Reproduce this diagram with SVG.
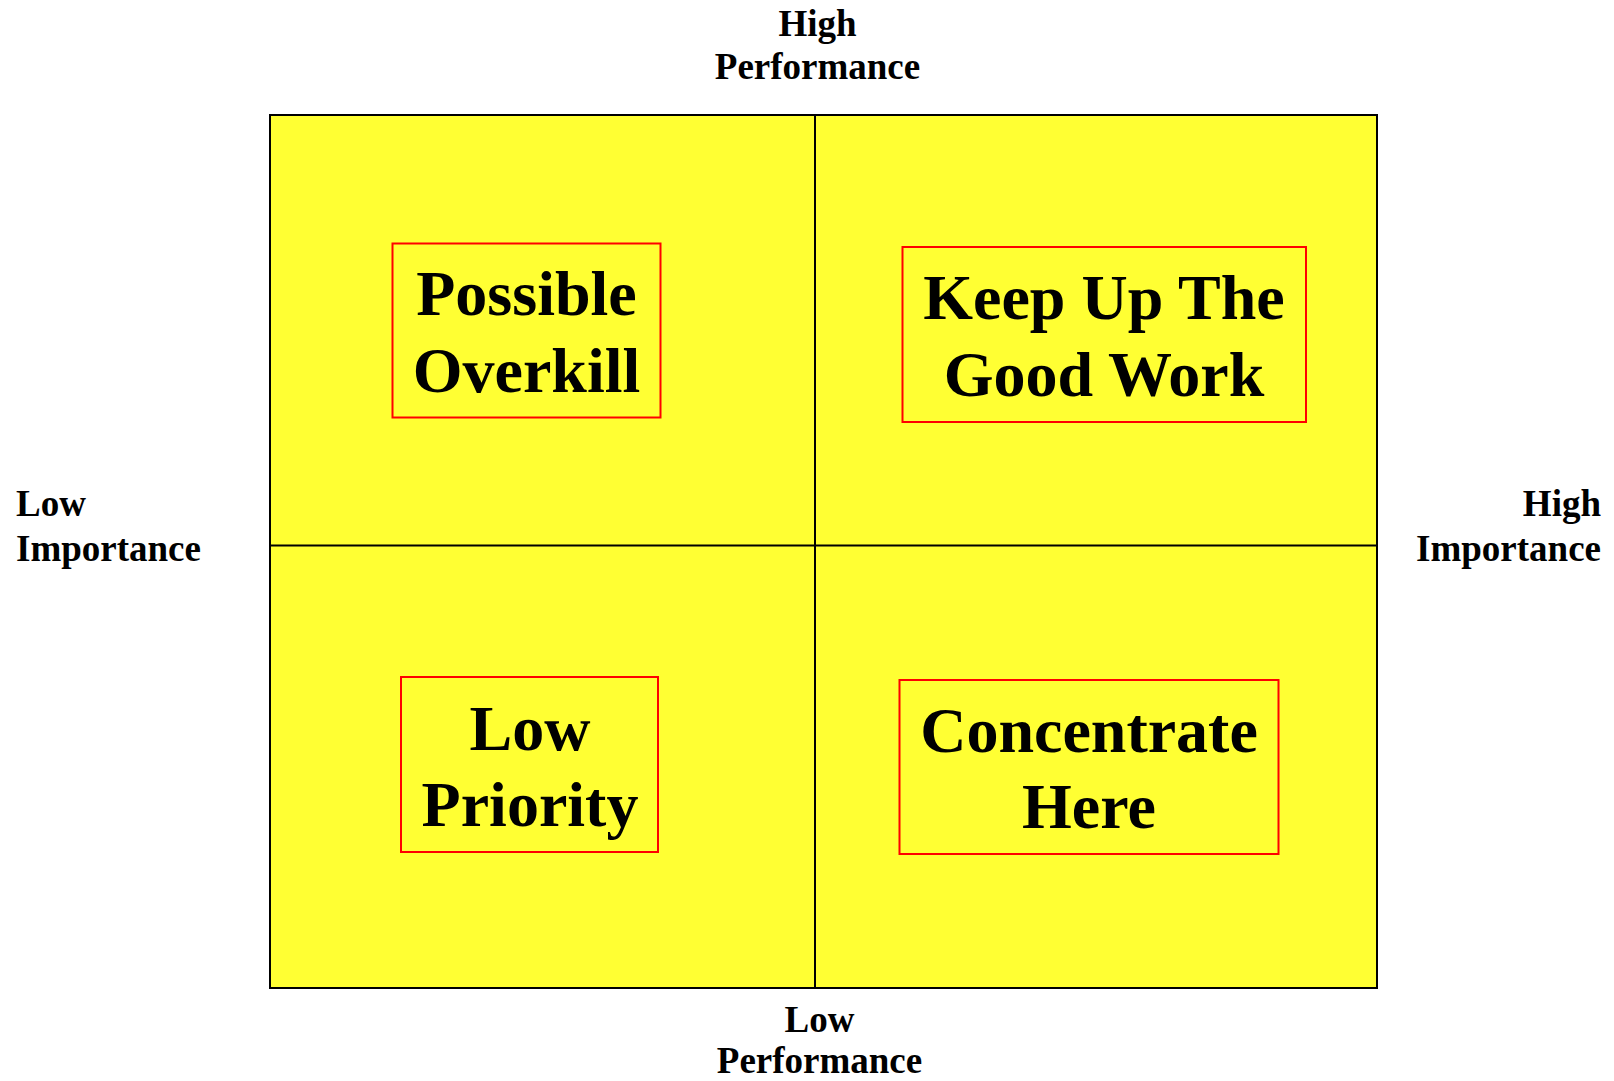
<svg xmlns="http://www.w3.org/2000/svg" width="1614" height="1081" viewBox="0 0 1614 1081">
<style>
.bg{fill:#ffffff}
.quad{fill:#ffff33;stroke:#000;stroke-width:2}
.div{stroke:#000;stroke-width:2;fill:none}
.box{fill:none;stroke:#ff0000;stroke-width:2}
.big{font-family:"Liberation Serif","Times New Roman",serif;font-weight:bold;font-size:64px;fill:#000;text-anchor:middle}
.axis{font-family:"Liberation Serif","Times New Roman",serif;font-weight:bold;font-size:37px;fill:#000}
</style>
<rect class="bg" x="0" y="0" width="1614" height="1081"/>
<g id="matrix">
<rect class="quad" x="270" y="115" width="1107" height="873"/>
</g>
<g id="connectors">
<line class="div" x1="815" y1="115" x2="815" y2="988"/>
<line class="div" x1="270" y1="545.5" x2="1377" y2="545.5"/>
</g>
<g id="possible-overkill">
<rect class="box" x="392.5" y="243.5" width="268" height="174"/>
<text class="big" x="526.5" y="315">Possible</text>
<text class="big" x="526.5" y="392">Overkill</text>
</g>
<g id="keep-up">
<rect class="box" x="902.5" y="247" width="403.5" height="175"/>
<text class="big" x="1104" y="319">Keep Up The</text>
<text class="big" x="1104" y="396">Good Work</text>
</g>
<g id="low-priority">
<rect class="box" x="401" y="677" width="257" height="175"/>
<text class="big" x="530" y="750">Low</text>
<text class="big" x="530" y="826">Priority</text>
</g>
<g id="concentrate">
<rect class="box" x="899.5" y="680" width="379" height="174"/>
<text class="big" x="1089" y="752">Concentrate</text>
<text class="big" x="1089" y="828">Here</text>
</g>
<g id="high-performance">
<text class="axis" x="817.5" y="36" text-anchor="middle">High</text>
<text class="axis" x="817.5" y="79" text-anchor="middle">Performance</text>
</g>
<g id="low-performance">
<text class="axis" x="819.5" y="1032" text-anchor="middle">Low</text>
<text class="axis" x="819.5" y="1073" text-anchor="middle">Performance</text>
</g>
<g id="low-importance">
<text class="axis" x="16" y="516">Low</text>
<text class="axis" x="16" y="561">Importance</text>
</g>
<g id="high-importance">
<text class="axis" x="1601" y="516" text-anchor="end">High</text>
<text class="axis" x="1601" y="561" text-anchor="end">Importance</text>
</g>
</svg>
